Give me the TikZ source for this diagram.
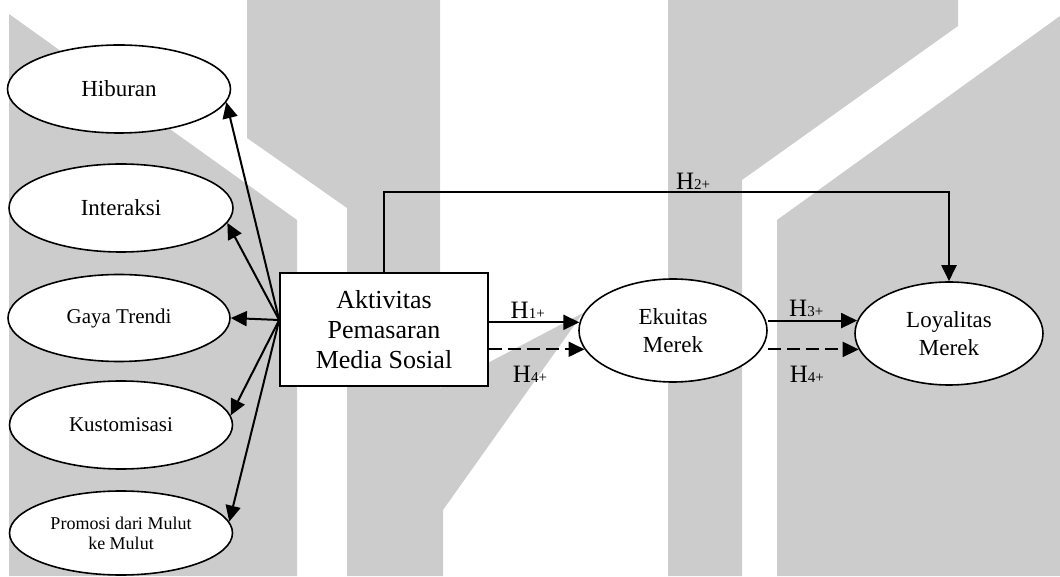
\documentclass[tikz,border=0pt]{standalone}
\usepackage{fontspec}
\setmainfont{Liberation Serif}
\usetikzlibrary{arrows.meta,shapes.geometric}

\newcommand{\hyp}[1]{{\fontsize{25}{25}\selectfont H}{\fontsize{15}{15}\selectfont #1+}}

\begin{document}
\begin{tikzpicture}[x=1pt, y=1pt, >={Triangle[length=16pt,width=15pt]},
		conn/.style={line width=2pt, ->},
		dashline/.style={dash pattern=on 13pt off 6pt},
		oval/.style={ellipse, draw, line width=1.6pt, fill=white, inner sep=0pt, align=center, minimum width=223pt, minimum height=88pt, font=\fontsize{23}{28}\selectfont},
		lbl/.style={anchor=base, inner sep=0pt}]
	\useasboundingbox (0,0) rectangle (1060,576);
	
	% 1. 背景灰色图形
	\fill[gray!40] (9,562) -- (297,356) -- (297,0) -- (9,0) -- cycle;
	\fill[gray!40] (247,576) -- (440,576) -- (440,188) -- (583,263) -- (443,66) -- (443,0) -- (347,0) -- (347,368) -- (247,438) -- cycle;
	\fill[gray!40] (668,576) -- (958,576) -- (958,550) -- (742,396) -- (742,0) -- (668,0) -- cycle;
	\fill[gray!40] (777,356) -- (1060,560) -- (1060,0) -- (777,0) -- cycle;
	
	% 2. 节点
	\node[oval] (hib) at (119,487) {Hiburan};
	\node[oval, minimum width=224pt] (inter) at (121,368) {Interaksi};
	\node[oval, minimum width=222pt, minimum height=87pt, font=\fontsize{21}{25}\selectfont] (gaya) at (119,258) {Gaya Trendi};
	\node[oval, font=\fontsize{21}{25}\selectfont] (kusto) at (121,151) {Kustomisasi};
	\node[oval, minimum height=84pt, font=\fontsize{18}{20}\selectfont] (promo) at (121,43) {Promosi dari Mulut\\ke Mulut};
	\node[draw, line width=1.6pt, fill=white, minimum width=208pt, minimum height=113pt, inner sep=0pt, align=center, font=\fontsize{26}{30}\selectfont] (box) at (384,246.5) {Aktivitas\\Pemasaran\\Media Sosial};
	\node[oval, minimum width=188pt, minimum height=103pt] (ekuitas) at (673,245.5) {Ekuitas\\Merek};
	\node[oval, minimum width=188pt, minimum height=103pt] (loyal) at (949,242.5) {Loyalitas\\Merek};
	
	% 3. 左侧箭头
	\coordinate (hub) at ([yshift=9.5pt]box.west);
	\draw[conn] (hub) -- (hib.-7);
	\draw[conn] (hub) -- (inter.-8);
	\draw[conn] (hub) -- (gaya.east);
	\draw[conn] (hub) -- (kusto.5);
	\draw[conn] (hub) -- (promo.6);
	
	% 4. 假设路径
	\draw[conn] (box.east |- ekuitas.175) -- (ekuitas.175) node[lbl, pos=.43, yshift=4pt] {\hyp{1}};
	\draw[conn, dashline] (box.east |- ekuitas.192) -- (ekuitas.192) node[lbl, pos=.43, yshift=-33pt] {\hyp{4}};
	\draw[conn] (ekuitas.east |- loyal.172) -- (loyal.172) node[lbl, pos=.43, yshift=4pt] {\hyp{3}};
	\draw[conn, dashline] (ekuitas.east |- loyal.190) -- (loyal.190) node[lbl, pos=.43, yshift=-33pt] {\hyp{4}};
	
	% H2 绕上方
	\coordinate (top) at ([yshift=80pt]box.north);
	\draw[conn] (box.north) -- (top) -| (loyal.north);
	\path (top) -- (top -| loyal.north) node[lbl, pos=.547, yshift=3pt] {\hyp{2}};
\end{tikzpicture}
\end{document}
